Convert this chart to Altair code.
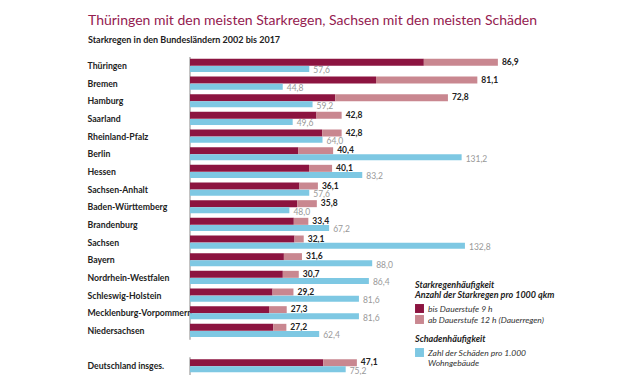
import altair as alt
import pandas as pd

states = ["Thüringen", "Bremen", "Hamburg", "Saarland", "Rheinland-Pfalz", "Berlin",
          "Hessen", "Sachsen-Anhalt", "Baden-Württemberg", "Brandenburg", "Sachsen",
          "Bayern", "Nordrhein-Westfalen", "Schleswig-Holstein",
          "Mecklenburg-Vorpommern", "Niedersachsen", "Deutschland insges."]
rain_total = [86.9, 81.1, 72.8, 42.8, 42.8, 40.4, 40.1, 36.1, 35.8, 33.4, 32.1,
              31.6, 30.7, 29.2, 27.3, 27.2, 47.1]
rain_short = [66.0, 52.5, 41.0, 35.7, 37.3, 30.6, 33.6, 30.9, 30.3, 29.3, 29.5,
              26.5, 26.2, 23.3, 22.3, 23.5, 37.6]
damage = [57.6, 44.8, 59.2, 49.6, 64.0, 131.2, 83.2, 57.6, 48.0, 67.2, 132.8,
          88.0, 86.4, 81.6, 81.6, 62.4, 75.2]

SEG1 = "bis Dauerstufe 9 h"
SEG2 = "ab Dauerstufe 12 h (Dauerregen)"
BLUE = "Zahl der Schäden pro 1.000|Wohngebäude"
SPACER = " "
row_order = states[:-1] + [SPACER] + states[-1:]

def fmt(v):
    return f"{v:.1f}".replace(".", ",")

seg_rows = []
for s, d, t in zip(states, rain_short, rain_total):
    seg_rows.append({"land": s, "start": 0.0, "end": d, "typ": SEG1})
    seg_rows.append({"land": s, "start": d, "end": t, "typ": SEG2})
seg = pd.DataFrame(seg_rows)

df = pd.DataFrame({
    "land": states,
    "total": rain_total,
    "damage": damage,
    "total_lbl": [fmt(v) for v in rain_total],
    "damage_lbl": [fmt(v) for v in damage],
    "typ": [BLUE] * len(states),
})

FONT = "Lato"
RED_DOM = [0, 112.9]
BLUE_DOM = [0, 193.2]

y_enc = alt.Y("land:N", sort=row_order, scale=alt.Scale(domain=row_order, paddingInner=0, paddingOuter=0),
              axis=alt.Axis(title=None, labelAlign="left", labelPadding=103, ticks=False, tickSize=0,
                            domain=False, labelFont=FONT, labelFontSize=8.7, labelFontWeight="bold",
                            labelColor="#222", labelLimit=200))

axis_line = alt.Chart(df).mark_tick(orient="vertical", size=17.65, thickness=1, color="#555").encode(
    x=alt.value(0), y=y_enc)

legend_common = dict(orient="none", legendX=225,
                     symbolType="square", symbolSize=80, symbolStrokeWidth=0,
                     titleFont=FONT, titleFontSize=9, titleFontStyle="italic",
                     titleFontWeight="bold", titleColor="#222", titlePadding=4,
                     labelFont=FONT, labelFontSize=8.5, labelFontStyle="italic",
                     labelColor="#333", labelLimit=300, rowPadding=2, titleLineHeight=10)

red = alt.Chart(seg).mark_bar(size=7, yOffset=-3.5).encode(
    y=y_enc,
    x=alt.X("start:Q", scale=alt.Scale(domain=RED_DOM), axis=None),
    x2="end:Q",
    color=alt.Color("typ:N", scale=alt.Scale(domain=[SEG1, SEG2], range=["#8c1440", "#c98790"]),
                    legend=alt.Legend(title=["Starkregenhäufigkeit", "Anzahl der Starkregen pro 1000 qkm"],
                                      legendY=224, **legend_common)),
)

red_lbl = alt.Chart(df).mark_text(align="left", dx=4, yOffset=-4, font=FONT, fontSize=8.5,
                                  fontWeight="bold", color="#222").encode(
    y=y_enc,
    x=alt.X("total:Q", scale=alt.Scale(domain=RED_DOM), axis=None),
    text="total_lbl:N")

blue = alt.Chart(df).mark_bar(size=6, yOffset=3.2).encode(
    y=y_enc,
    x=alt.X("damage:Q", scale=alt.Scale(domain=BLUE_DOM), axis=None),
    fill=alt.Fill("typ:N", scale=alt.Scale(domain=[BLUE], range=["#7ec8e3"]),
                  legend=alt.Legend(title="Schadenhäufigkeit", legendY=278,
                                    labelExpr="split(datum.label, '|')", **legend_common)),
)

blue_lbl = alt.Chart(df).mark_text(align="left", dx=4, yOffset=4.6, font=FONT, fontSize=8.5,
                                   color="#999").encode(
    y=y_enc,
    x=alt.X("damage:Q", scale=alt.Scale(domain=BLUE_DOM), axis=None),
    text="damage_lbl:N")

chart = alt.layer(axis_line, red, red_lbl, blue, blue_lbl).resolve_scale(
    x="independent", color="independent", fill="independent"
).properties(
    width=400, height=318,
    autosize=alt.AutoSizeParams(type="none"),
    padding={"left": 182, "top": 49, "right": 0, "bottom": 0},
    title=alt.TitleParams(
        text="Thüringen mit den meisten Starkregen, Sachsen mit den meisten Schäden",
        subtitle="Starkregen in den Bundesländern 2002 bis 2017",
        anchor="start", frame="group", dx=-102, offset=12,
        font=FONT, fontSize=14, fontWeight="normal", color="#94204f",
        subtitleFont=FONT, subtitleFontSize=9, subtitleFontWeight="bold",
        subtitleColor="#222", subtitlePadding=8),
).configure_view(stroke=None)

chart.save("out.html", embed_options={"renderer": "svg", "actions": False})
